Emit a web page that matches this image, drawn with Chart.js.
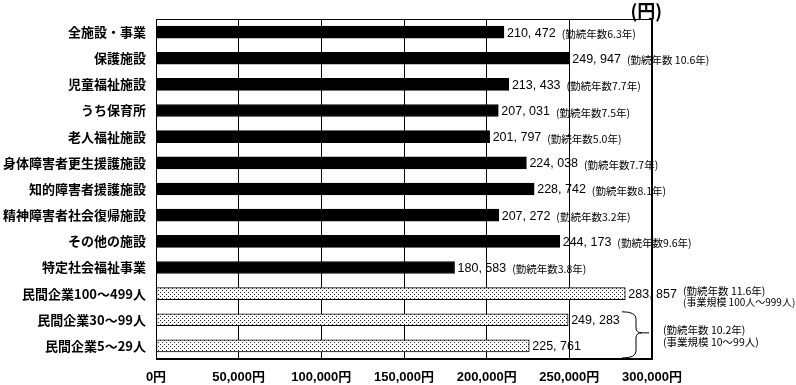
<!DOCTYPE html>
<html>
<head>
<meta charset="utf-8">
<script src="https://cdn.jsdelivr.net/npm/chart.js@4"></script>
<style>
  html, body { margin: 0; padding: 0; background: #fff; }
  #wrap { width: 796px; height: 385px; position: relative; }
</style>
</head>
<body>
<div id="wrap"><canvas id="c"></canvas></div>
<script>
// Monthly wages by facility type vs. private companies (yen).
const categories = [
  '全施設・事業', '保護施設', '児童福祉施設', 'うち保育所', '老人福祉施設',
  '身体障害者更生援護施設', '知的障害者援護施設', '精神障害者社会復帰施設',
  'その他の施設', '特定社会福祉事業',
  '民間企業100～499人', '民間企業30～99人', '民間企業5～29人'
];
const salaries = [
  210472, 249947, 213433, 207031, 201797, 224038, 228742, 207272,
  244173, 180583, 283857, 249283, 225761
];
const tenureNotes = [
  '(勤続年数6.3年)', '(勤続年数 10.6年)', '(勤続年数7.7年)', '(勤続年数7.5年)',
  '(勤続年数5.0年)', '(勤続年数7.7年)', '(勤続年数8.1年)', '(勤続年数3.2年)',
  '(勤続年数9.6年)', '(勤続年数3.8年)', '', '', ''
];
const privateLargeNotes = ['(勤続年数 11.6年)', '(事業規模 100人～999人)'];
const privateSmallNotes = ['(勤続年数 10.2年)', '(事業規模 10～99人)'];
const privateRows = [10, 11, 12];
const xMin = 0, xMax = 300000, xStep = 50000;
const unitLabel = '(円)';

const CJK = "'Noto Sans CJK JP', sans-serif";
const NUM = "'Liberation Sans', Arial, sans-serif";

// dotted fill like the old Excel pattern
function dotPattern() {
  const p = document.createElement('canvas');
  p.width = 4; p.height = 4;
  const g = p.getContext('2d');
  g.fillStyle = '#fff';
  g.fillRect(0, 0, 4, 4);
  g.fillStyle = '#222';
  g.fillRect(0, 0, 1, 1);
  g.fillRect(2, 2, 1, 1);
  return document.getElementById('c').getContext('2d').createPattern(p, 'repeat');
}
const dots = dotPattern();
const fills = categories.map((_, i) => (privateRows.includes(i) ? dots : '#000'));

function fmt(v) {
  return v.toLocaleString('en-US').replace(',', ', ');
}

// Value labels + tenure notes go under the grid lines, like the original.
const labelsUnderGrid = {
  id: 'labelsUnderGrid',
  beforeDraw(chart) {
    const x = chart.scales.x, y = chart.scales.y;
    const ctx = chart.ctx;
    ctx.save();
    ctx.fillStyle = '#000';
    ctx.textBaseline = 'middle';
    salaries.forEach((v, i) => {
      const px = x.getPixelForValue(v) + 3;
      const py = y.getPixelForValue(i) + 1;
      ctx.font = '12.5px ' + NUM;
      const txt = fmt(v);
      ctx.fillText(txt, px, py);
      if (tenureNotes[i]) {
        const w = ctx.measureText(txt).width;
        ctx.font = '10.5px ' + CJK;
        ctx.fillText(tenureNotes[i], px + w + 6, py + 1);
      }
    });
    ctx.restore();
  },
};

// Frame, unit label, brace and side notes for the private company rows.
const extras = {
  id: 'extras',
  afterDraw(chart) {
    const { left, right, top, bottom } = chart.chartArea;
    const y = chart.scales.y;
    const ctx = chart.ctx;
    ctx.save();
    ctx.strokeStyle = '#000';
    ctx.lineWidth = 1;
    ctx.strokeRect(Math.round(left) + 0.5, Math.round(top) + 0.5,
      Math.round(right - left) - 1, Math.round(bottom - top) - 1);

    ctx.fillStyle = '#000';
    ctx.font = 'bold 18px ' + CJK;
    ctx.textAlign = 'right';
    ctx.textBaseline = 'middle';
    ctx.fillText(unitLabel, right + 10, top - 8);

    // notes for 100-499 row
    ctx.textAlign = 'left';
    ctx.font = '10.5px ' + CJK;
    const y10 = y.getPixelForValue(10);
    ctx.fillText(privateLargeNotes[0], right + 31, y10 - 3);
    ctx.font = '10px ' + CJK;
    ctx.fillText(privateLargeNotes[1], right + 31, y10 + 9);

    // brace over the two smaller company rows
    const y11 = y.getPixelForValue(11), y12 = y.getPixelForValue(12);
    const bTop = y11 - 8, bBot = bottom - 1, mid = (y11 + y12) / 2;
    const x0 = right - 30, xv = right - 16, xt = right - 3;
    ctx.beginPath();
    ctx.moveTo(x0, bTop);
    ctx.quadraticCurveTo(xv, bTop, xv, bTop + 7);
    ctx.lineTo(xv, mid - 5);
    ctx.quadraticCurveTo(xv, mid, xv + 6, mid);
    ctx.lineTo(xt, mid);
    ctx.moveTo(xv + 6, mid);
    ctx.quadraticCurveTo(xv, mid, xv, mid + 5);
    ctx.lineTo(xv, bBot - 7);
    ctx.quadraticCurveTo(xv, bBot, x0, bBot);
    ctx.stroke();

    ctx.font = '10.5px ' + CJK;
    ctx.fillText(privateSmallNotes[0], right + 11, mid - 3);
    ctx.fillText(privateSmallNotes[1], right + 11, mid + 9);
    ctx.restore();
  },
};

new Chart(document.getElementById('c'), {
  type: 'bar',
  data: {
    labels: categories,
    datasets: [{
      data: salaries,
      backgroundColor: fills,
      borderColor: '#000',
      borderWidth: 1,
      borderSkipped: false,
      barThickness: 12,
    }],
  },
  options: {
    indexAxis: 'y',
    responsive: true, maintainAspectRatio: false,
    animation: false,
    layout: { padding: { top: 19, right: 144, left: 0, bottom: 0 } },
    scales: {
      x: {
        min: xMin, max: xMax,
        grid: { color: '#000', lineWidth: 1, drawTicks: false },
        border: { display: true, color: '#000' },
        ticks: {
          stepSize: xStep, color: '#000', padding: 11, maxRotation: 0,
          font: { family: NUM + ", 'Noto Sans CJK JP'", weight: 'bold', size: 13 },
          callback: (v) => v.toLocaleString('en-US') + '円',
        },
        afterFit(scale) { scale.height = 26; },
      },
      y: {
        grid: { display: false, drawTicks: false },
        border: { display: true, color: '#000' },
        ticks: {
          color: '#000', padding: 10, autoSkip: false,
          font: { family: CJK, weight: 'bold', size: 13 },
        },
        afterFit(scale) { scale.width = 156; },
      },
    },
    plugins: { legend: { display: false }, tooltip: { enabled: false } },
  },
  plugins: [labelsUnderGrid, extras],
});
</script>
</body>
</html>
